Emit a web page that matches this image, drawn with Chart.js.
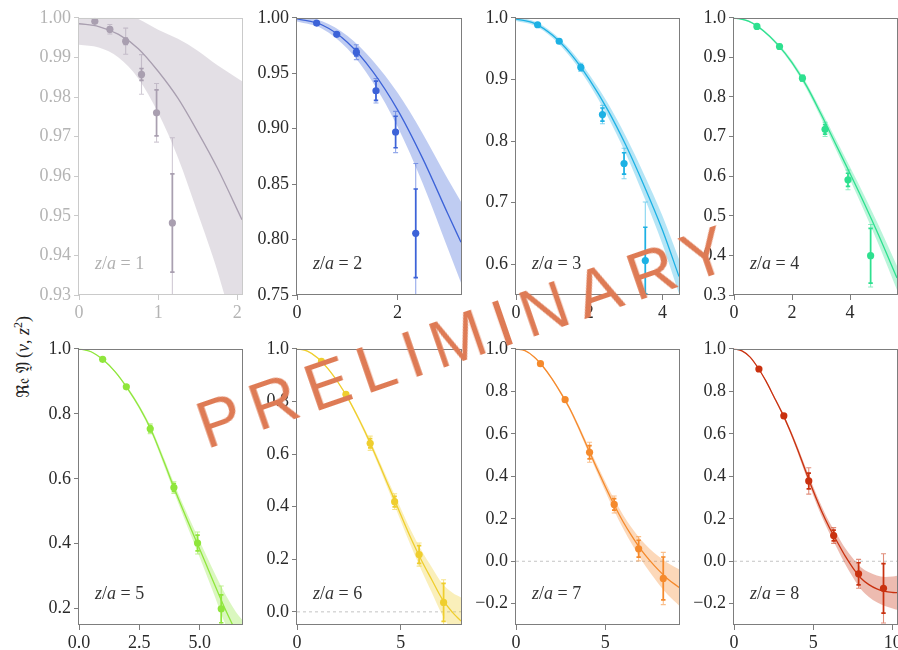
<!DOCTYPE html>
<html>
<head>
<meta charset="utf-8">
<script src="https://cdn.jsdelivr.net/npm/chart.js@4.4.0/dist/chart.umd.min.js"></script>
<style>
  html, body { margin: 0; padding: 0; background: #fff; }
  body { width: 898px; height: 650px; overflow: hidden; position: relative; }
  canvas { position: absolute; }
  #ylabel {
    position: absolute; left: 22px; top: 357px;
    transform: translate(-50%, -50%) rotate(-90deg);
    white-space: nowrap; font: 18px "Liberation Serif", serif; color: #222;
  }
  #ylabel .frak { font-family: "DejaVu Serif", "DejaVu Sans", serif; font-size: 17px; }
  #ylabel sup { font-size: 12px; }
  #stamp {
    position: absolute; left: 462px; top: 337px;
    transform: translate(-50%, -50%) rotate(-19deg);
    white-space: nowrap; font: 66px "Liberation Sans", sans-serif; line-height: 1;
    letter-spacing: 11px; padding-left: 11px; color: #de7b55; z-index: 10;
  }
</style>
</head>
<body>
<div id="ylabel"><span class="frak">ℜ𝔢 𝔜</span>&#8201;(<i>ν</i>, <i>z</i><sup>2</sup>)</div>
<div id="stamp">PRELIMINARY</div>
<script>
// separations z/a, one panel each
const zValues = [1, 2, 3, 4, 5, 6, 7, 8];

// lattice data: Ioffe time nu, real part, statistical and total uncertainty
const pointNu = [
  [0.20, 0.39, 0.59, 0.79, 0.98, 1.18],
  [0.39, 0.79, 1.18, 1.57, 1.96, 2.36],
  [0.59, 1.18, 1.77, 2.36, 2.95, 3.53],
  [0.79, 1.57, 2.36, 3.14, 3.93, 4.71],
  [0.98, 1.96, 2.95, 3.93, 4.91, 5.89],
  [1.18, 2.36, 3.53, 4.71, 5.89, 7.07],
  [1.37, 2.75, 4.12, 5.50, 6.87, 8.25],
  [1.57, 3.14, 4.71, 6.28, 7.85, 9.42]
];
const pointRe = [
  [0.9991, 0.9971, 0.9941, 0.9857, 0.9760, 0.9482],
  [0.9952, 0.9851, 0.9690, 0.9342, 0.8970, 0.8056],
  [0.9887, 0.9619, 0.9196, 0.8429, 0.7635, 0.6059],
  [0.9783, 0.9275, 0.8475, 0.7183, 0.5908, 0.3992],
  [0.9675, 0.8831, 0.7540, 0.5730, 0.4023, 0.2000],
  [0.9520, 0.8268, 0.6410, 0.4190, 0.2180, 0.0360],
  [0.9300, 0.7605, 0.5130, 0.2675, 0.0590, -0.0810],
  [0.9050, 0.6843, 0.3780, 0.1213, -0.0590, -0.1275]
];
const statErr = [
  [0.0002, 0.0006, 0.0008, 0.0015, 0.0058, 0.0124],
  [0.0005, 0.0010, 0.0033, 0.0087, 0.0142, 0.0400],
  [0.0010, 0.0020, 0.0040, 0.0107, 0.0174, 0.0541],
  [0.0030, 0.0040, 0.0060, 0.0120, 0.0167, 0.0690],
  [0.0030, 0.0040, 0.0100, 0.0120, 0.0240, 0.0430],
  [0.0030, 0.0050, 0.0175, 0.0200, 0.0340, 0.0720],
  [0.0040, 0.0060, 0.0310, 0.0270, 0.0400, 0.1010],
  [0.0040, 0.0070, 0.0370, 0.0250, 0.0520, 0.1165]
];
const totErr = [
  [0.0003, 0.0012, 0.0033, 0.0050, 0.0074, 0.0215],
  [0.0008, 0.0015, 0.0067, 0.0110, 0.0186, 0.0630],
  [0.0015, 0.0030, 0.0067, 0.0150, 0.0247, 0.0950],
  [0.0040, 0.0060, 0.0083, 0.0180, 0.0250, 0.0790],
  [0.0040, 0.0060, 0.0150, 0.0180, 0.0340, 0.0700],
  [0.0040, 0.0070, 0.0270, 0.0300, 0.0440, 0.0860],
  [0.0050, 0.0080, 0.0470, 0.0400, 0.0570, 0.1230],
  [0.0060, 0.0100, 0.0620, 0.0370, 0.0680, 0.1630]
];

// fitted curve: nu nodes, central value, half-width of the band
const fitNu = [
  [0, 0.25, 0.5, 0.75, 1.0, 1.25, 1.5, 1.75, 2.06],
  [0, 0.5, 1.0, 1.5, 2.0, 2.5, 3.0, 3.26],
  [0, 0.5, 1.0, 1.5, 2.0, 2.5, 3.0, 3.5, 4.0, 4.45],
  [0, 0.5, 1.0, 1.5, 2.0, 2.5, 3.0, 3.5, 4.0, 4.5, 5.0, 5.62],
  [0, 0.5, 1.0, 1.5, 2.0, 2.5, 3.0, 3.5, 4.0, 4.5, 5.0, 5.5, 6.0, 6.5, 6.75],
  [0, 0.5, 1.0, 1.5, 2.0, 2.5, 3.0, 3.5, 4.0, 4.5, 5.0, 5.5, 6.0, 6.5, 7.0, 7.5, 7.91],
  [0, 0.5, 1.0, 1.5, 2.0, 2.5, 3.0, 3.5, 4.0, 4.5, 5.0, 5.5, 6.0, 6.5, 7.0, 7.5, 8.0, 8.5, 9.13],
  [0, 0.5, 1.0, 1.5, 2.0, 2.5, 3.0, 3.5, 4.0, 4.5, 5.0, 5.5, 6.0, 6.5, 7.0, 7.5, 8.0, 8.5, 9.0, 9.5, 10.0, 10.27]
];
const fitRe = [
  [0.9985, 0.9978, 0.9958, 0.9922, 0.9865, 0.9797, 0.9712, 0.9620, 0.9490],
  [0.9991, 0.9935, 0.9780, 0.9520, 0.9170, 0.8730, 0.8230, 0.7976],
  [0.9980, 0.9910, 0.9715, 0.9410, 0.9000, 0.8510, 0.7930, 0.7270, 0.6550, 0.5800],
  [1.0000, 0.9915, 0.9680, 0.9330, 0.8870, 0.8280, 0.7570, 0.6820, 0.6070, 0.5300, 0.4490, 0.3430],
  [1.0000, 0.9910, 0.9660, 0.9290, 0.8790, 0.8200, 0.7480, 0.6560, 0.5600, 0.4700, 0.3830, 0.2950, 0.2080, 0.1300, 0.0970],
  [1.0000, 0.9910, 0.9650, 0.9240, 0.8700, 0.8060, 0.7300, 0.6470, 0.5560, 0.4630, 0.3700, 0.2790, 0.1960, 0.1220, 0.0490, -0.0020, -0.0350],
  [1.0000, 0.9910, 0.9630, 0.9180, 0.8610, 0.7940, 0.7200, 0.6320, 0.5370, 0.4430, 0.3520, 0.2650, 0.1860, 0.1170, 0.0550, 0.0030, -0.0430, -0.0830, -0.1230],
  [1.0000, 0.9900, 0.9620, 0.9120, 0.8500, 0.7770, 0.7030, 0.6200, 0.5270, 0.4270, 0.3290, 0.2390, 0.1600, 0.0920, 0.0250, -0.0320, -0.0800, -0.1100, -0.1300, -0.1420, -0.1470, -0.1480]
];
const fitErr = [
  [0.0053, 0.0053, 0.0058, 0.0075, 0.0105, 0.0150, 0.0205, 0.0260, 0.0350],
  [0.0025, 0.0033, 0.0057, 0.0097, 0.0153, 0.0225, 0.0313, 0.0365],
  [0.0030, 0.0033, 0.0043, 0.0058, 0.0080, 0.0109, 0.0143, 0.0184, 0.0232, 0.0280],
  [0.0020, 0.0022, 0.0029, 0.0040, 0.0056, 0.0076, 0.0100, 0.0129, 0.0162, 0.0200, 0.0243, 0.0301],
  [0.0010, 0.0012, 0.0020, 0.0030, 0.0040, 0.0060, 0.0080, 0.0110, 0.0140, 0.0190, 0.0250, 0.0330, 0.0450, 0.0600, 0.0700],
  [0.0010, 0.0012, 0.0020, 0.0030, 0.0040, 0.0055, 0.0080, 0.0110, 0.0140, 0.0180, 0.0240, 0.0300, 0.0380, 0.0480, 0.0600, 0.0750, 0.0900],
  [0.0010, 0.0012, 0.0020, 0.0035, 0.0050, 0.0070, 0.0090, 0.0120, 0.0150, 0.0180, 0.0220, 0.0270, 0.0320, 0.0380, 0.0460, 0.0550, 0.0650, 0.0750, 0.0850],
  [0.0010, 0.0012, 0.0020, 0.0030, 0.0040, 0.0060, 0.0080, 0.0110, 0.0140, 0.0180, 0.0210, 0.0240, 0.0260, 0.0320, 0.0380, 0.0450, 0.0520, 0.0580, 0.0630, 0.0680, 0.0750, 0.0800]
];

// axis ranges and tick labels
const xMax = [2.06, 3.26, 4.45, 5.62, 6.75, 7.91, 9.13, 10.27];
const yMin = [0.93, 0.75, 0.55, 0.30, 0.15, -0.05, -0.30, -0.30];
const xTicks = [[0, 1, 2], [0, 2], [0, 2, 4], [0, 2, 4], [0, 2.5, 5], [0, 5], [0, 5], [0, 5, 10]];
const yTicks = [
  [0.93, 0.94, 0.95, 0.96, 0.97, 0.98, 0.99, 1.00],
  [0.75, 0.80, 0.85, 0.90, 0.95, 1.00],
  [0.6, 0.7, 0.8, 0.9, 1.0],
  [0.3, 0.4, 0.5, 0.6, 0.7, 0.8, 0.9, 1.0],
  [0.2, 0.4, 0.6, 0.8, 1.0],
  [0.0, 0.2, 0.4, 0.6, 0.8, 1.0],
  [-0.2, 0.0, 0.2, 0.4, 0.6, 0.8, 1.0],
  [-0.2, 0.0, 0.2, 0.4, 0.6, 0.8, 1.0]
];
const xDecimals = [0, 0, 0, 0, 1, 0, 0, 0];
const yDecimals = [2, 2, 1, 1, 1, 1, 1, 1];

// colours per separation
const seriesColor = ['#a99fb0', '#3d63d8', '#1db1e4', '#2ee08f', '#8fe63c', '#efce2e', '#f58a2c', '#c9310f'];

// plot-area rectangles in the page (left, top, right, bottom)
const colLeft = [79, 297, 516, 734];
const colRight = [242, 461, 679, 897];
const rowTop = [16, 347];
const rowBottom = [295, 625];

const Y_AXIS_W = 60, X_AXIS_H = 34, PAD_TOP = 12, PAD_RIGHT = 14;
const TICK_FONT = { family: '"Liberation Serif", serif', size: 18 };

function rgba(hex, a) {
  const n = parseInt(hex.slice(1), 16);
  return `rgba(${(n >> 16) & 255},${(n >> 8) & 255},${n & 255},${a})`;
}
function fmt(v, d) {
  const s = Math.abs(v).toFixed(d);
  return (v < 0 && Number(s) !== 0 ? '\u2212' : '') + s;
}

const panelDecor = {
  id: 'panelDecor',
  beforeDatasetDraw(chart, args, o) {
    if (args.index !== 0) return;
    const { ctx, chartArea: a, scales: { x, y } } = chart;
    const i = o.idx;
    ctx.save();
    ctx.beginPath();
    ctx.rect(a.left, a.top, a.right - a.left, a.bottom - a.top);
    ctx.clip();
    const bar = (px, lo, hi, color, w, cap) => {
      const y1 = y.getPixelForValue(lo), y2 = y.getPixelForValue(hi);
      ctx.strokeStyle = color; ctx.lineWidth = w;
      ctx.beginPath();
      ctx.moveTo(px, y1); ctx.lineTo(px, y2);
      ctx.moveTo(px - cap, y1); ctx.lineTo(px + cap, y1);
      ctx.moveTo(px - cap, y2); ctx.lineTo(px + cap, y2);
      ctx.stroke();
    };
    pointNu[i].forEach((nu, k) => {
      const px = x.getPixelForValue(nu);
      const v = pointRe[i][k];
      bar(px, v - totErr[i][k], v + totErr[i][k], rgba(o.color, 0.55), 1.1, 2.5);
      bar(px, v - statErr[i][k], v + statErr[i][k], o.color, 1.7, 2.2);
    });
    ctx.restore();
  },
  afterDraw(chart, args, o) {
    const { ctx, chartArea: a } = chart;
    ctx.save();
    ctx.strokeStyle = o.frame; ctx.lineWidth = 1;
    ctx.strokeRect(Math.round(a.left) - 0.5, Math.round(a.top) + 0.5,
      Math.round(a.right - a.left) + 1, Math.round(a.bottom - a.top) - 1);
    // separation label, z and a in italics
    const parts = [['z', true], ['/', false], ['a', true], [' = ' + zValues[o.idx], false]];
    let cx = a.left + 16;
    const cy = a.bottom - 31;
    ctx.fillStyle = o.text; ctx.textBaseline = 'middle'; ctx.textAlign = 'left';
    for (const [t, it] of parts) {
      ctx.font = (it ? 'italic ' : '') + '18px "Liberation Serif", serif';
      ctx.fillText(t, cx, cy);
      cx += ctx.measureText(t).width;
    }
    ctx.restore();
  }
};

zValues.forEach((z, i) => {
  const col = i % 4, row = Math.floor(i / 4);
  const L = colLeft[col], R = colRight[col], T = rowTop[row], B = rowBottom[row];
  const cv = document.createElement('canvas');
  const W = (R - L) + Y_AXIS_W + PAD_RIGHT, H = (B - T) + PAD_TOP + X_AXIS_H;
  cv.width = W; cv.height = H;
  cv.style.left = (L - Y_AXIS_W) + 'px'; cv.style.top = (T - PAD_TOP) + 'px';
  cv.style.width = W + 'px'; cv.style.height = H + 'px';
  document.body.appendChild(cv);

  const c = seriesColor[i];
  const faded = i === 0;
  const textColor = faded ? '#b4b4b4' : '#2a2a2a';
  const frameColor = faded ? '#cacaca' : '#7d7d7d';

  const datasets = [
    {
      type: 'scatter',
      data: pointNu[i].map((v, k) => ({ x: v, y: pointRe[i][k] })),
      showLine: false, pointRadius: 3.6, pointHoverRadius: 3.6,
      pointBackgroundColor: c, pointBorderWidth: 0, borderColor: c
    },
    {
      data: fitNu[i].map((v, k) => ({ x: v, y: fitRe[i][k] })),
      borderColor: c, borderWidth: 1.3, pointRadius: 0,
      cubicInterpolationMode: 'monotone', fill: false
    },
    {
      data: fitNu[i].map((v, k) => ({ x: v, y: fitRe[i][k] + fitErr[i][k] })),
      borderColor: 'transparent', borderWidth: 0, pointRadius: 0,
      cubicInterpolationMode: 'monotone', fill: '+1', backgroundColor: rgba(c, 0.33)
    },
    {
      data: fitNu[i].map((v, k) => ({ x: v, y: fitRe[i][k] - fitErr[i][k] })),
      borderColor: 'transparent', borderWidth: 0, pointRadius: 0,
      cubicInterpolationMode: 'monotone', fill: false
    }
  ];
  if (yMin[i] < 0) {
    datasets.push({
      data: [{ x: 0, y: 0 }, { x: xMax[i], y: 0 }],
      borderColor: '#c4c4c4', borderWidth: 1, borderDash: [3, 3], pointRadius: 0, fill: false
    });
  }

  new Chart(cv, {
    type: 'line',
    data: { datasets },
    plugins: [panelDecor],
    options: {
      responsive: false, animation: false, devicePixelRatio: 1,
      layout: { padding: { top: PAD_TOP, right: PAD_RIGHT, left: 0, bottom: 0 } },
      plugins: {
        legend: { display: false }, tooltip: { enabled: false },
        panelDecor: { idx: i, color: c, text: faded ? '#b0b0b0' : '#333', frame: frameColor }
      },
      scales: {
        x: {
          type: 'linear', min: 0, max: xMax[i],
          afterBuildTicks: s => { s.ticks = xTicks[i].map(v => ({ value: v })); },
          afterFit: s => { s.height = X_AXIS_H; },
          ticks: { callback: v => fmt(v, xDecimals[i]), color: textColor, font: TICK_FONT, padding: 2, maxRotation: 0, autoSkip: false },
          grid: { drawOnChartArea: false, drawTicks: true, tickLength: 5, tickColor: frameColor, color: frameColor },
          border: { display: false }
        },
        y: {
          type: 'linear', min: yMin[i], max: 1,
          afterBuildTicks: s => { s.ticks = yTicks[i].map(v => ({ value: v })); },
          afterFit: s => { s.width = Y_AXIS_W; },
          ticks: { callback: v => fmt(v, yDecimals[i]), color: textColor, font: TICK_FONT, padding: 3, autoSkip: false },
          grid: { drawOnChartArea: false, drawTicks: true, tickLength: 5, tickColor: frameColor, color: frameColor },
          border: { display: false }
        }
      }
    }
  });
});
</script>
</body>
</html>
